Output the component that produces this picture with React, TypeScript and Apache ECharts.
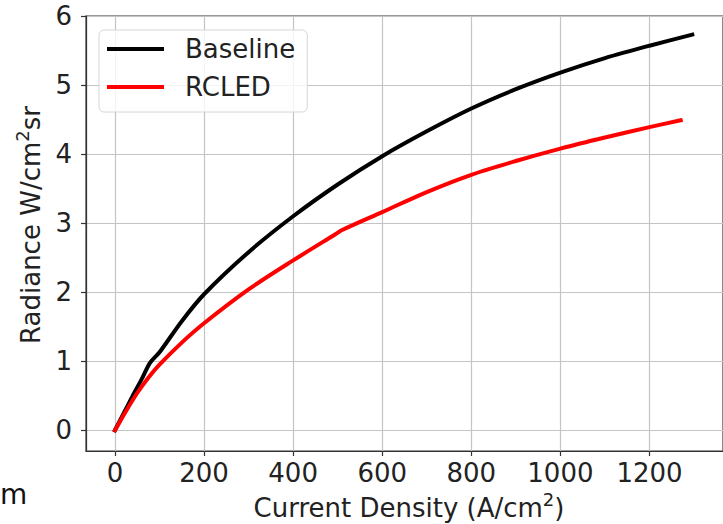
import React, { useEffect, useRef } from "react";
import * as echarts from "echarts";

const baselineX = [0, 20, 40, 60, 79, 100, 150, 200, 300, 400, 500, 600, 700, 800, 900, 1000, 1100, 1200, 1296];
const baselineY = [0, 0.25, 0.5, 0.74, 0.98, 1.13, 1.58, 1.97, 2.58, 3.1, 3.56, 3.97, 4.33, 4.66, 4.94, 5.18, 5.39, 5.57, 5.73];

const rcledX = [0, 25, 50, 75, 100, 150, 200, 300, 400, 495, 510, 600, 700, 800, 900, 1000, 1100, 1200, 1270];
const rcledY = [0, 0.28, 0.54, 0.76, 0.95, 1.27, 1.55, 2.04, 2.46, 2.84, 2.9, 3.16, 3.45, 3.7, 3.9, 4.08, 4.24, 4.39, 4.49];

const xTickStep = 200;
const yTickStep = 1;

const FONT = "DejaVu Sans";

export default function App() {
  const ref = useRef<HTMLDivElement>(null);
  useEffect(() => {
    document.body.style.margin = "0";
    const chart = echarts.init(ref.current!, null, { renderer: "svg" });
    const axisCommon = {
      axisLine: { show: true, onZero: false, lineStyle: { color: "#333", width: 1.2 } },
      axisTick: { show: true, inside: false, length: 5, lineStyle: { color: "#333", width: 1.2 } },
      splitLine: { show: true, lineStyle: { color: "#c4c4c4", width: 1.2 } },
    };
    const rich = {
      n: { fontFamily: FONT, fontSize: 26, lineHeight: 36, fill: "#222" },
      sup: { fontFamily: FONT, fontSize: 18, lineHeight: 18, verticalAlign: "top", fill: "#222" },
    };
    chart.setOption({
      animation: false,
      backgroundColor: "#fff",
      grid: {
        left: 86,
        top: 16,
        right: -12,
        bottom: 73,
        show: true,
        borderColor: "#333",
        borderWidth: 1.2,
        backgroundColor: "transparent",
      },
      legend: {
        orient: "vertical",
        left: 99,
        top: 30,
        padding: [6, 12, 12, 8],
        itemGap: 12,
        itemWidth: 57,
        itemHeight: 4,
        icon: "rect",
        backgroundColor: "rgba(255,255,255,0.8)",
        borderColor: "#d6d6d6",
        borderWidth: 1,
        borderRadius: 5,
        textStyle: { fontFamily: FONT, fontSize: 26, lineHeight: 26, color: "#222", padding: [0, 0, 0, 16] },
        data: ["Baseline", "RCLED"],
      },
      xAxis: {
        type: "value",
        min: -65,
        max: 1365,
        splitNumber: 7,
        ...axisCommon,
        axisLabel: {
          fontFamily: FONT,
          fontSize: 26,
          color: "#222",
          margin: 9,
          showMinLabel: false,
          showMaxLabel: false,
          formatter: (v: number) => (v % xTickStep === 0 ? String(v) : ""),
        },
      },
      yAxis: {
        type: "value",
        min: -0.3,
        max: 6,
        splitNumber: 6,
        ...axisCommon,
        axisLabel: {
          fontFamily: FONT,
          fontSize: 26,
          color: "#222",
          margin: 14,
          showMinLabel: false,
          formatter: (v: number) => (Math.abs(v % yTickStep) < 1e-9 ? String(v) : ""),
        },
      },
      graphic: [
        {
          type: "text",
          x: 31,
          y: 225,
          rotation: Math.PI / 2,
          style: {
            text: "{n|Radiance W/cm}{sup|2}{n|sr}",
            fill: "#222",
            align: "center",
            verticalAlign: "middle",
            rich,
          },
        },
        {
          type: "text",
          x: 409,
          y: 508,
          style: {
            text: "{n|Current Density (A/cm}{sup|2}{n|)}",
            fill: "#222",
            align: "center",
            verticalAlign: "middle",
            rich,
          },
        },
        {
          type: "text",
          x: 0,
          y: 494,
          style: {
            text: "m",
            fill: "#111",
            font: `28px ${FONT}`,
            align: "left",
            verticalAlign: "middle",
          },
        },
      ],
      series: [
        {
          name: "Baseline",
          type: "line",
          data: baselineX.map((x, i) => [x, baselineY[i]]),
          showSymbol: false,
          symbol: "none",
          smooth: 0.3,
          itemStyle: { color: "#000" },
          lineStyle: { color: "#000", width: 4, cap: "square" },
          z: 3,
        },
        {
          name: "RCLED",
          type: "line",
          data: rcledX.map((x, i) => [x, rcledY[i]]),
          showSymbol: false,
          symbol: "none",
          smooth: 0.3,
          itemStyle: { color: "#ff0000" },
          lineStyle: { color: "#ff0000", width: 4, cap: "square" },
          z: 4,
        },
      ],
    });
    return () => chart.dispose();
  }, []);
  return <div ref={ref} style={{ width: 723, height: 524 }} />;
}
